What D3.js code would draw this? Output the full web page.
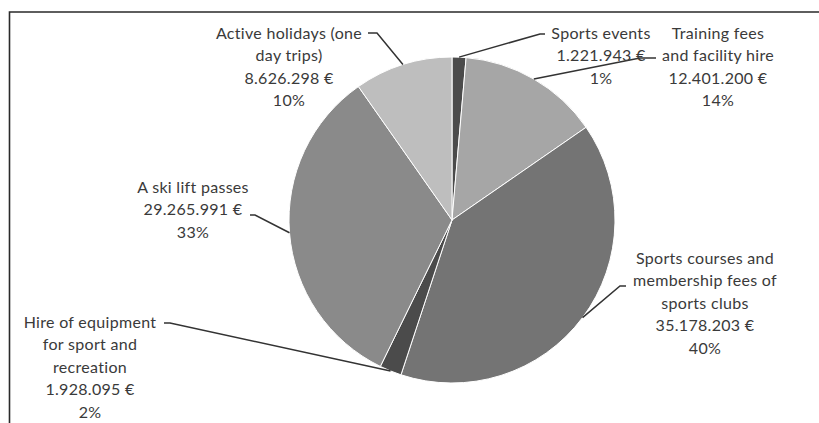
<!DOCTYPE html>
<html>
<head>
<meta charset="utf-8">
<script src="https://cdn.jsdelivr.net/npm/d3@7"></script>
<style>
  html, body { margin: 0; padding: 0; background: #fff; }
  svg { display: block; }
  text { font-family: Lato, "Open Sans", sans-serif; }
</style>
</head>
<body>
<svg id="chart" width="819" height="423"></svg>
<script>
// ---- data ----
const categories = [
  "Sports events",
  "Training fees and facility hire",
  "Sports courses and membership fees of sports clubs",
  "Hire of equipment for sport and recreation",
  "A ski lift passes",
  "Active holidays (one day trips)"
];
const values = [1221943, 12401200, 35178203, 1928095, 29265991, 8626298];
const valueLabels = ["1.221.943 €", "12.401.200 €", "35.178.203 €", "1.928.095 €", "29.265.991 €", "8.626.298 €"];
const percentLabels = ["1%", "14%", "40%", "2%", "33%", "10%"];
// label line-breaks as shown in the chart
const labelLines = [
  ["Sports events"],
  ["Training fees", "and facility hire"],
  ["Sports courses and", "membership fees of", "sports clubs"],
  ["Hire of equipment", "for sport and", "recreation"],
  ["A ski lift passes"],
  ["Active holidays (one", "day trips)"]
];

// ---- layout / style ----
const colors = ["#4b4b4b", "#a6a6a6", "#747474", "#4b4b4b", "#8a8a8a", "#bebebe"];
const cx = 452, cy = 220, R = 163;
// label block: center x, first line y (relative to pie centre); leader elbow & end (relative)
const labelLayout = [
  { x: 149, y: -187, elbow: [88, -186], end: [93, -186] },
  { x: 266, y: -187, elbow: [188, -162], end: [204, -162] },
  { x: 253, y: 38,   elbow: [168, 66],  end: [174, 66] },
  { x: -362, y: 102, elbow: [-282, 103], end: [-288, 103] },
  { x: -259, y: -33, elbow: [-197, -5], end: [-202, -5] },
  { x: -163, y: -187, elbow: [-75, -187], end: [-84, -187] }
];
const lineH = 22.5;

const svg = d3.select("#chart");

// frame (top & left edges visible)
svg.append("path")
  .attr("d", "M9.5,423 L9.5,12 L819,12")
  .attr("fill", "none")
  .attr("stroke", "#2a2a2a")
  .attr("stroke-width", 1.6);

const g = svg.append("g").attr("transform", `translate(${cx},${cy})`);

const pie = d3.pie().sort(null).value(d => d)(values);
const arc = d3.arc().innerRadius(0).outerRadius(R);

g.selectAll("path.slice")
  .data(pie)
  .join("path")
  .attr("class", "slice")
  .attr("d", arc)
  .attr("fill", (d, i) => colors[i])
  .attr("stroke", "#fff")
  .attr("stroke-width", 1)
  .attr("stroke-linejoin", "round");

// leader lines
g.selectAll("path.leader")
  .data(pie)
  .join("path")
  .attr("class", "leader")
  .attr("d", (d, i) => {
    const a = (d.startAngle + d.endAngle) / 2;
    const sx = R * Math.sin(a), sy = -R * Math.cos(a);
    const L = labelLayout[i];
    return `M${sx},${sy} L${L.elbow[0]},${L.elbow[1]} L${L.end[0]},${L.end[1]}`;
  })
  .attr("fill", "none")
  .attr("stroke", "#333")
  .attr("stroke-width", 1.5);

// labels
pie.forEach((d, i) => {
  const L = labelLayout[i];
  const lines = labelLines[i].concat([valueLabels[i], percentLabels[i]]);
  const t = g.append("text")
    .attr("text-anchor", "middle")
    .attr("fill", "#3a3a3a")
    .attr("font-size", "16px")
    .attr("letter-spacing", "0.3px");
  lines.forEach((s, k) => {
    t.append("tspan")
      .attr("x", L.x)
      .attr("y", L.y + k * lineH)
      .attr("dy", "0.35em")
      .text(s);
  });
});
</script>
</body>
</html>
